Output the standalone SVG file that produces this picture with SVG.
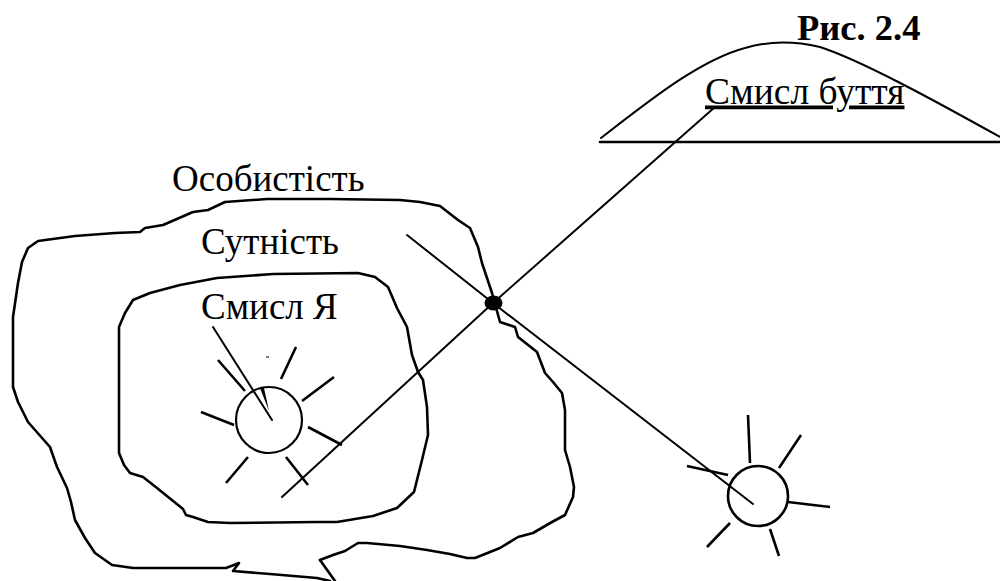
<svg xmlns="http://www.w3.org/2000/svg" width="1000" height="581" viewBox="0 0 1000 581">
<style>
text{font-family:"Liberation Serif","Times New Roman",serif;font-size:37px;fill:#000}
.b{font-weight:bold;font-size:36.500px}
.w{font-size:37.500px}
.c{fill:none;stroke:#000;stroke-width:2.6;stroke-linejoin:round;stroke-linecap:round}
.t{fill:none;stroke:#000;stroke-width:2;stroke-linecap:round}
.r{stroke:#000;stroke-width:2.6;stroke-linecap:butt;fill:none}
.s{fill:none;stroke:#000;stroke-width:2.2}
</style>
<rect width="1000" height="581" fill="#fff"/>
<g id="outer-contour"><path class="c" d="M320 560L333 555L345 551L358 543L367 543L400 546L427 550L450 554L467 558L475 558L500 548L518 537L533 533L552 522L565 515L573 497L574 487L570 467L565 450L565 410L562 393L553 382L545 373L537 352L518 337L515 327L500 322L492 293L482 263L478 247L470 228L458 220L440 206L420 202L400 200L330 199L267 199L225 202L208 210L193 212L163 225L145 228L140 232L115 233L75 236L38 241L28 248L22 262L18 283L13 317L13 387L18 402L28 422L50 447L57 467L67 488L71 502L75 520L85 538L95 553L112 565L133 568L226 568L239 563L233 571L270 574L317 578L330 581"/><path class="c" d="M320 560L335 581"/></g>
<g id="inner-contour"><path class="c" d="M358 273L273 274L217 278L180 285L150 293L133 300L125 313L119 327L119 453L124 465L130 473L143 477L157 488L183 509L186 515L193 517L208 522L230 523L317 522L337 522L373 516L397 508L414 492L422 460L428 435L427 407L423 380L418 372L412 355L407 327L397 308L388 287L375 277Z"/></g>
<g id="hill"><path class="c" style="stroke-width:2" d="M601 138C650 100 700 60 745 48C765 42 790 40 820 47C860 60 930 98 1000 137"/><path class="c" d="M600 142H1000"/></g>
<g id="connectors">
<path class="t" d="M715 107L493 303L282 497"/>
<path class="t" d="M407 235L493 303L753 504"/>
<path class="t" d="M213 327L272 420"/>
</g>
<g id="junction"><ellipse cx="493.500" cy="303" rx="9" ry="7.500" fill="#000"/></g>
<g id="inner-sun">
<circle class="s" cx="269" cy="420" r="33"/>
<path class="r" d="M218 360L245 391M296 347L281 379M201 412L234 425M248 457L226 483M286 457L308 485M302 401L334 377M308 427L342 445"/>
<path d="M260 388L264 388L269 411Z" fill="#000"/>
<path d="M266 357H269" stroke="#000" stroke-width="1"/>
</g>
<g id="outer-sun">
<circle class="r" cx="758" cy="496" r="30" style="stroke-width:2.6"/>
<path class="r" d="M748 415L750 463M801 435L779 468M788 502L830 507M770 529L779 556M730 523L707 547M687 466L728 475"/>
</g>
<g id="labels">
<text class="b" x="797" y="40">Рис. 2.4</text>
<text class="w" x="705" y="103.500" text-decoration="underline">Смисл буття</text>
<text x="172" y="191">Особистість</text>
<text x="201" y="254">Сутність</text>
<text x="201" y="319">Смисл Я</text>
</g>
</svg>
